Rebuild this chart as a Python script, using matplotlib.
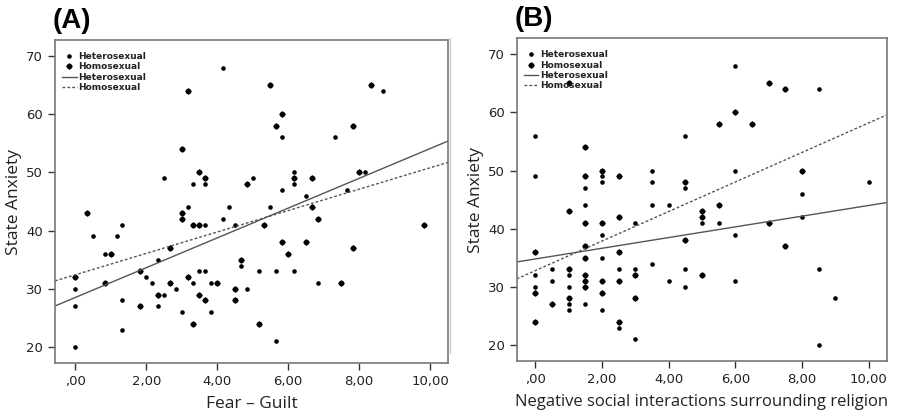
import matplotlib.pyplot as plt
from matplotlib.lines import Line2D
from matplotlib.legend_handler import HandlerTuple

# ------------------------------------------------------------
# data
# ------------------------------------------------------------

# panel A : Fear - Guilt vs State Anxiety
a_het_x = [0, 0, 0, 0.5, 0.83, 1.17, 1.33, 1.33, 1.33, 2.0, 2.17, 2.33, 2.33, 2.5, 2.5,
           2.83, 3.0, 3.17, 3.33, 3.33, 3.5, 3.67, 3.67, 3.67, 3.83, 3.83, 4.17, 4.17,
           4.33, 4.5, 4.67, 4.83, 5.0, 5.17, 5.5, 5.67, 5.67, 5.83, 5.83, 6.17, 6.17,
           6.17, 6.5, 6.83, 7.33, 7.67, 8.17, 8.67]
a_het_y = [30, 27, 20, 39, 36, 39, 41, 28, 23, 32, 31, 35, 27, 49, 29,
           30, 26, 44, 48, 31, 33, 48, 41, 33, 31, 26, 68, 42,
           44, 41, 34, 30, 49, 33, 44, 33, 21, 56, 47, 50, 48,
           33, 46, 31, 56, 47, 50, 64]
a_hom_x = [0, 0.33, 1.0, 0.83, 1.83, 1.83, 2.33, 2.67, 2.67, 3.0, 3.0, 3.0, 3.17, 3.17,
           3.33, 3.33, 3.5, 3.5, 3.5, 3.67, 3.67, 4.0, 4.5, 4.5, 4.67, 4.83, 5.17, 5.33,
           5.5, 5.67, 5.83, 5.83, 6.0, 6.17, 6.5, 6.67, 6.67, 6.83, 7.5, 7.83, 7.83, 8.0,
           8.33, 9.83]
a_hom_y = [32, 43, 36, 31, 33, 27, 29, 37, 31, 54, 43, 42, 64, 32,
           41, 24, 50, 41, 29, 49, 28, 31, 30, 28, 35, 48, 24, 41,
           65, 58, 60, 38, 36, 49, 38, 49, 44, 42, 31, 58, 37, 50,
           65, 41]

# panel B : negative social interactions vs State Anxiety
b_het_x = [0, 0, 0, 0, 0.5, 0.5, 1.0, 1.0, 1.0, 1.0, 1.5, 1.5, 1.5, 2.0, 2.0, 2.0, 2.0,
           2.0, 2.5, 2.5, 3.0, 3.0, 3.0, 3.5, 3.5, 3.5, 3.5, 4.0, 4.0, 4.5, 4.5, 4.5,
           4.5, 5.0, 5.5, 6.0, 6.0, 6.0, 6.0, 8.0, 8.0, 8.5, 8.5, 8.5, 9.0, 10.0]
b_het_y = [56, 49, 32, 30, 33, 31, 32, 30, 27, 26, 47, 44, 27, 49, 48, 39, 35,
           26, 33, 23, 41, 33, 21, 50, 48, 44, 34, 44, 31, 56, 47, 33,
           30, 41, 41, 68, 50, 39, 31, 46, 42, 64, 33, 20, 28, 48]
b_hom_x = [0, 0, 0, 0.5, 1.0, 1.0, 1.0, 1.0, 1.5, 1.5, 1.5, 1.5, 1.5, 1.5, 1.5, 1.5,
           2.0, 2.0, 2.0, 2.0, 2.5, 2.5, 2.5, 2.5, 2.5, 3.0, 3.0, 4.5, 4.5, 5.0, 5.0,
           5.0, 5.5, 5.5, 6.0, 6.5, 7.0, 7.0, 7.5, 7.5, 8.0]
b_hom_y = [36, 29, 24, 27, 65, 43, 33, 28, 54, 49, 41, 37, 35, 32, 31, 30,
           50, 41, 31, 29, 49, 42, 36, 31, 24, 32, 28, 48, 38, 43, 42,
           32, 58, 44, 60, 58, 65, 41, 64, 37, 50]

# fit lines (intercept, slope)
a_fit = {'Heterosexual': (28.5, 2.56), 'Homosexual': (32.4, 1.84)}
b_fit = {'Heterosexual': (34.8, 0.92), 'Homosexual': (32.8, 2.54)}

xticks = [0, 2, 4, 6, 8, 10]
xticklabels = [',00', '2,00', '4,00', '6,00', '8,00', '10,00']
yticks = [20, 30, 40, 50, 60, 70]

# ------------------------------------------------------------
# figure
# ------------------------------------------------------------
plt.rcParams['font.family'] = 'DejaVu Sans'

fig = plt.figure(figsize=(8.98, 4.13), dpi=100)
axA = fig.add_axes([0.0612, 0.1211, 0.4376, 0.782])
axB = fig.add_axes([0.5754, 0.1259, 0.412, 0.7814])

line_col = '#555555'


def draw_panel(ax, hx, hy, mx, my, fit, xlim, xlabel, xl_size, tag):
    het, = ax.plot(hx, hy, 'o', color='black', ms=3.3, mew=0)
    # homosexual marker: a round dot with small bumps
    hom1, = ax.plot(mx, my, 'o', color='black', ms=4.1, mew=0)
    hom2, = ax.plot(mx, my, '+', color='black', ms=4.6, mew=1.0)
    lo, hi = xlim
    b0, b1 = fit['Heterosexual']
    l1, = ax.plot([lo, hi], [b0 + b1 * lo, b0 + b1 * hi], '-', color=line_col, lw=1.0)
    b0, b1 = fit['Homosexual']
    l2, = ax.plot([lo, hi], [b0 + b1 * lo, b0 + b1 * hi], color=line_col, lw=1.0,
                  ls=(0, (2, 1.5)))

    ax.set_xlim(lo, hi)
    ax.set_ylim(17.25, 72.75)
    ax.set_xticks(xticks)
    ax.set_xticklabels(xticklabels)
    ax.set_yticks(yticks)
    ax.tick_params(direction='out', length=5, width=1, colors='#333333',
                   labelsize=9.5, labelcolor='#222222')
    for s in ax.spines.values():
        s.set_color('#777777')
        s.set_linewidth(1.2)
    ax.set_xlabel(xlabel, fontsize=xl_size, color='#222222', labelpad=6,
                  family='Open Sans')
    ax.set_ylabel('State Anxiety', fontsize=12.5, color='#222222', labelpad=3,
                  family='Open Sans')

    leg = ax.legend([het, (hom1, hom2), l1, l2],
                    ['Heterosexual', 'Homosexual', 'Heterosexual', 'Homosexual'],
                    handler_map={tuple: HandlerTuple(ndivide=1)},
                    loc='upper left', fontsize=6.5, frameon=False, handlelength=1.6,
                    handletextpad=0.2, labelspacing=0.15, borderaxespad=0.4,
                    bbox_to_anchor=(0.0, 0.985))
    for t in leg.get_texts():
        t.set_color('#222222')
        t.set_fontweight('bold')
    ax.text(-0.005, 1.02, tag, transform=ax.transAxes, fontsize=20,
            fontweight='bold', va='bottom', ha='left', family='Liberation Sans')


draw_panel(axA, a_het_x, a_het_y, a_hom_x, a_hom_y, a_fit, (-0.57, 10.5),
           'Fear \u2013 Guilt', 12.5, '(A)')
draw_panel(axB, b_het_x, b_het_y, b_hom_x, b_hom_y, b_fit, (-0.56, 10.54),
           'Negative social interactions surrounding religion', 12, '(B)')

# faint divider between the panels
fig.add_artist(Line2D([0.5015, 0.5015], [0.145, 0.908], color='#cccccc', lw=1))

fig.savefig('out.png', dpi=100)
